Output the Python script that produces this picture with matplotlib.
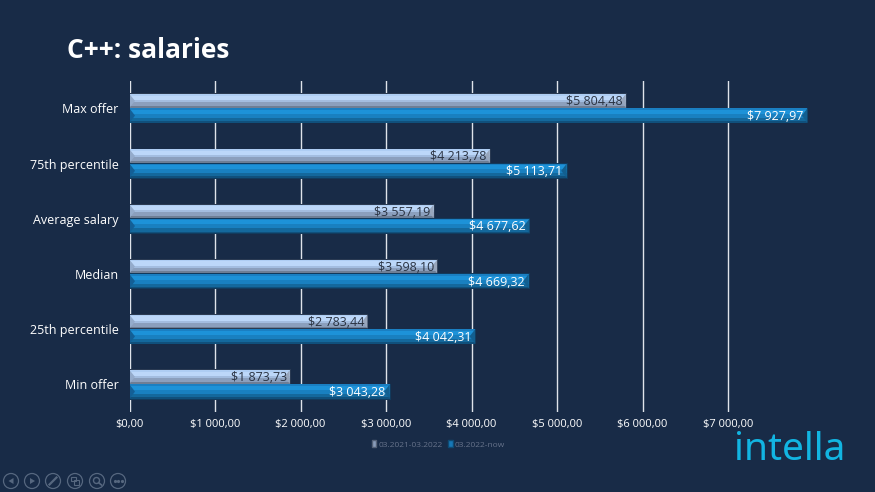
import matplotlib
matplotlib.use("Agg")
import matplotlib.pyplot as plt
from matplotlib.patches import Circle, Patch, Rectangle

categories = ["Max offer", "75th percentile", "Average salary", "Median", "25th percentile", "Min offer"]
period_old = [5804.48, 4213.78, 3557.19, 3598.10, 2783.44, 1873.73]
period_new = [7927.97, 5113.71, 4677.62, 4669.32, 4042.31, 3043.28]
ticks = [0, 1000, 2000, 3000, 4000, 5000, 6000, 7000]
legend_labels = ["03.2021-03.2022", "03.2022-now"]

BG = "#182b47"
FONT = "Open Sans"
W, H = 875, 492
PX_X = 85.5 / 1000  # pixels per dollar
PX_Y = 55.2  # pixels per category

# colour bands of the fake 3d bars, pixels from the group centre
LIGHT_BANDS = [(-14.3, -12.8, "#aecdf3"), (-12.8, -8.5, "#bcd7f9"), (-8.5, -6.5, "#a3bde0"),
               (-6.5, -2.6, "#8b9fbd"), (-2.6, -0.8, "#6e7e95")]
DARK_BANDS = [(0.0, 1.6, "#1a7fc2"), (1.6, 5.5, "#1d92d8"), (5.5, 9.5, "#1980c0"),
              (9.5, 12.8, "#14689c"), (12.8, 14.4, "#10507c")]


def money(v):
    whole, cents = f"{v:,.2f}".split(".")
    return "$" + whole.replace(",", " ") + "," + cents


def draw_bar(ax, y, value, bands, left_col, right_col, edge):
    top, bottom = bands[0][0] / PX_Y, bands[-1][1] / PX_Y
    ax.barh(y + (top + bottom) / 2, value + 1 / PX_X, bottom - top + 1.4 / PX_Y, color=edge, zorder=2)
    for start, end, color in bands:
        ax.barh(y + (start + end) / 2 / PX_Y, value, (end - start) / PX_Y, color=color, zorder=3)
    # bevels at both ends of the bar
    mid = (top + bottom) / 2
    dx = 5.5 / PX_X
    ax.fill([0, dx, 0], [y + top, y + mid, y + bottom], color=left_col, zorder=4, lw=0)
    ax.fill([value, value - dx, value], [y + top, y + mid, y + bottom], color=right_col, zorder=4, lw=0)


fig = plt.figure(figsize=(W / 100, H / 100), dpi=100, facecolor=BG)
ax = fig.add_axes([129.5 / W, (H - 412) / H, 8000 * PX_X / W, 6 * PX_Y / H], facecolor="none")
ax.set_xlim(0, 8000)
ax.set_ylim(5.5, -0.5)

for i, name in enumerate(categories):
    draw_bar(ax, i, period_old[i], LIGHT_BANDS, "#94abcb", "#98a6bc", "#2a3a52")
    draw_bar(ax, i, period_new[i], DARK_BANDS, "#135f96", "#125f90", "#123a5c")
    ax.text(period_old[i] - 3 / PX_X, i - 6.8 / PX_Y, money(period_old[i]), ha="right", va="center",
            color="#2a3342", fontsize=9, family=FONT, zorder=5)
    ax.text(period_new[i] - 4 / PX_X, i + 8 / PX_Y, money(period_new[i]), ha="right", va="center",
            color="white", fontsize=9, family=FONT, zorder=5)

for t in ticks:
    ax.axvline(t, color="#dfe3ea", lw=1.0, zorder=1)
for s in ax.spines.values():
    s.set_visible(False)
ax.set_yticks(range(len(categories)), categories, color="white", fontsize=9, family=FONT)
ax.set_xticks(ticks, [money(t) for t in ticks], color="white", fontsize=8, family=FONT)
ax.tick_params(axis="both", length=0)
ax.tick_params(axis="y", pad=8)
ax.tick_params(axis="x", pad=5)

fig.text(67 / W, 1 - 50 / H, "C++: salaries", color="white", fontsize=19, fontweight="bold",
         family=FONT, va="center")

handles = [Patch(facecolor="#8a9dba", edgecolor="#556277"), Patch(facecolor="#1778b6", edgecolor="#0e4a73")]
fig.legend(handles, legend_labels, loc="center", bbox_to_anchor=(438.5 / W, 1 - 444.5 / H), ncol=2, frameon=False,
           labelcolor="#66728a", handlelength=0.5, handleheight=0.9,
           handletextpad=0.3, columnspacing=0.7, prop={"family": FONT, "size": 6})

fig.text(790 / W, 1 - 450.5 / H, "intella", color="#12b5e2", fontsize=28, family="Noto Sans",
         fontweight="medium", ha="center", va="center")

# slideshow controls, bottom left
ctl = fig.add_axes([0, 0, 1, 1], facecolor="none")
ctl.set_xlim(0, W)
ctl.set_ylim(H, 0)
ctl.axis("off")
ICON = "#56677f"
for cx in [11, 32, 53, 75, 97, 118]:
    ctl.add_patch(Circle((cx, 481), 7.5, fill=False, ec=ICON, lw=0.9))
ctl.fill([13.5, 8.5, 13.5], [478, 481, 484], color=ICON, lw=0)
ctl.fill([30, 35, 30], [478, 481, 484], color=ICON, lw=0)
ctl.plot([49.5, 56.5], [484.5, 477.5], color=ICON, lw=1.6)
ctl.add_patch(Rectangle((71, 477), 5, 4, fill=False, ec=ICON, lw=0.8))
ctl.add_patch(Rectangle((74, 480), 5, 5, fill=False, ec=ICON, lw=0.8))
ctl.add_patch(Circle((96.5, 480.5), 3, fill=False, ec=ICON, lw=1))
ctl.plot([98.8, 101.5], [482.8, 485], color=ICON, lw=1.2)
ctl.plot([114.5, 118, 121.5], [481, 481, 481], ls="none", marker="o", ms=1.3, color=ICON)

fig.savefig("out.png", dpi=100, facecolor=BG)
plt.close()
